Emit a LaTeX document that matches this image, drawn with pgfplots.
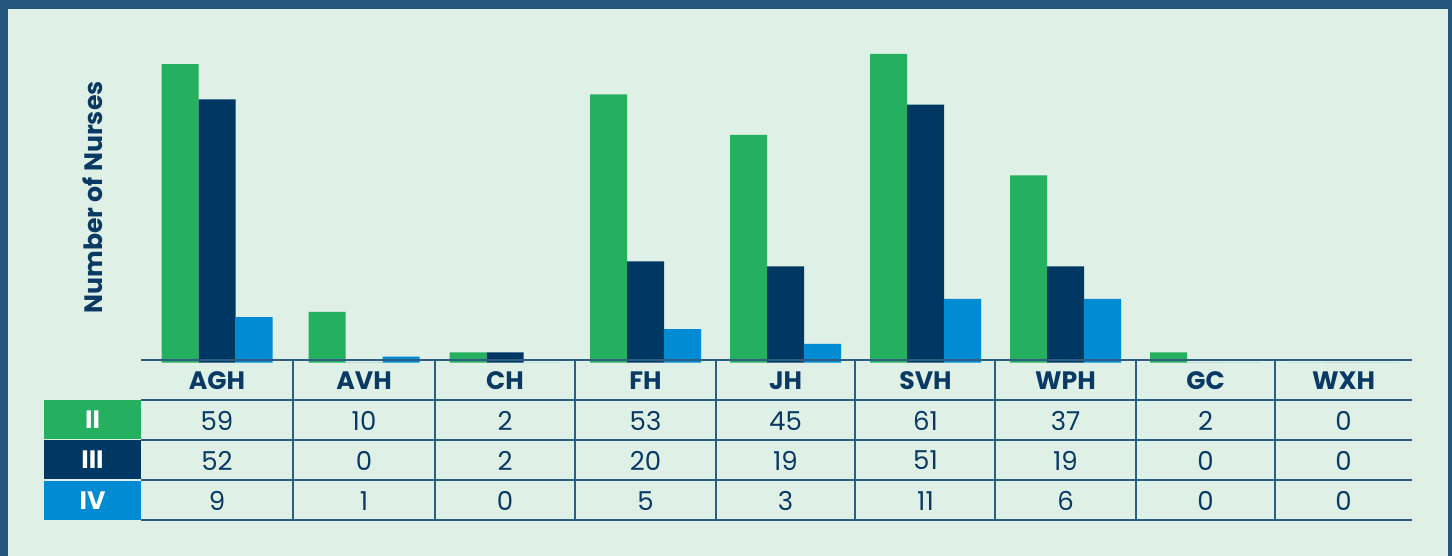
\documentclass[border=0pt]{standalone}
\usepackage{pgfplots}
\usepackage{pgfplotstable}
\usepackage{fontspec}
\setmainfont{Poppins}
\pgfplotsset{compat=1.18}
\definecolor{bg}{HTML}{DFF0E6}
\definecolor{frame}{HTML}{24557A}
\definecolor{cII}{HTML}{24B05E}
\definecolor{cIII}{HTML}{003763}
\definecolor{cIV}{HTML}{008BD3}
\definecolor{ink}{HTML}{0A3A63}
\definecolor{grid}{HTML}{2F5E80}

% table values (as printed) and bar heights (as drawn)
\pgfplotstableread{
pos name II III IV IVbar
217 AGH 59 52 9 9
364 AVH 10 0 1 1.2
505 CH 2 2 0 0
645.5 FH 53 20 5 6.6
785.5 JH 45 19 3 3.7
925.5 SVH 61 51 11 12.6
1065.5 WPH 37 19 6 12.6
1205.5 GC 2 0 0 0
1343.5 WXH 0 0 0 0
}\data

\begin{document}
\begin{tikzpicture}[x=0.5pt,y=-0.5pt]
% background and frame
\fill[bg] (0,0) rectangle (1452,556);
\fill[frame] (0,0) rectangle (1452,9);
\fill[frame] (0,0) rectangle (8,556);
\fill[frame] (1448,0) rectangle (1452,556);

\begin{axis}[
  at={(70.5pt,-181.3pt)}, anchor=south west,
  x=0.5pt, y=2.53pt,
  xmin=141, xmax=1412, ymin=0, ymax=65,
  axis line style={draw=none},
  ytick=\empty,
  xtick=data,
  xticklabels from table={\data}{name},
  major tick length=0pt,
  xticklabel style={font=\bfseries\fontsize{12.6}{14}\selectfont, text=ink, anchor=base, inner sep=0pt, yshift=-13.7pt},
  clip=false,
  nodes near coords align={center},
]
\addplot[ybar, bar width=18.5pt, bar shift=-18.5pt, fill=cII, draw=none] table[x=pos, y=II] {\data};
\addplot[ybar, bar width=18.5pt, bar shift=0pt, fill=cIII, draw=none] table[x=pos, y=III] {\data};
\addplot[ybar, bar width=18.5pt, bar shift=18.5pt, fill=cIV, draw=none] table[x=pos, y=IVbar] {\data};

\addplot[draw=none, mark=none, nodes near coords, point meta=explicit symbolic,
  every node near coord/.append style={anchor=center, inner sep=0pt, font=\fontsize{13}{15}\selectfont, text=ink}]
  table[x=pos, y expr=-11.54, meta=II] {\data};
\addplot[draw=none, mark=none, nodes near coords, point meta=explicit symbolic,
  every node near coord/.append style={anchor=center, inner sep=0pt, font=\fontsize{13}{15}\selectfont, text=ink}]
  table[x=pos, y expr=-19.35, meta=III] {\data};
\addplot[draw=none, mark=none, nodes near coords, point meta=explicit symbolic,
  every node near coord/.append style={anchor=center, inner sep=0pt, font=\fontsize{13}{15}\selectfont, text=ink}]
  table[x=pos, y expr=-27.35, meta=IV] {\data};
\end{axis}

% row header boxes
\fill[cII] (44,400) rectangle (141,439);
\fill[cIII] (44,440) rectangle (141,479);
\fill[cIV] (44,481) rectangle (141,520);
\node[text=white, font=\bfseries\fontsize{12.6}{14}\selectfont] at (92.5,419.5) {II};
\node[text=white, font=\bfseries\fontsize{12.6}{14}\selectfont] at (92.5,459.5) {III};
\node[text=white, font=\bfseries\fontsize{12.6}{14}\selectfont] at (92.5,500.5) {IV};

% table rules
\foreach \yy in {360,400,439.5,479.5,519.5}
  \draw[grid, line width=1pt] (141,\yy) -- (1412,\yy);
\foreach \xx in {293,435,575,716,855,995,1136,1275}
  \draw[grid, line width=1pt] (\xx,360) -- (\xx,519.5);

% y label
\node[rotate=90, anchor=base, text=ink, font=\bfseries\fontsize{12.6}{14}\selectfont] at (102.7,197.5) {Number of Nurses};
\end{tikzpicture}
\end{document}
